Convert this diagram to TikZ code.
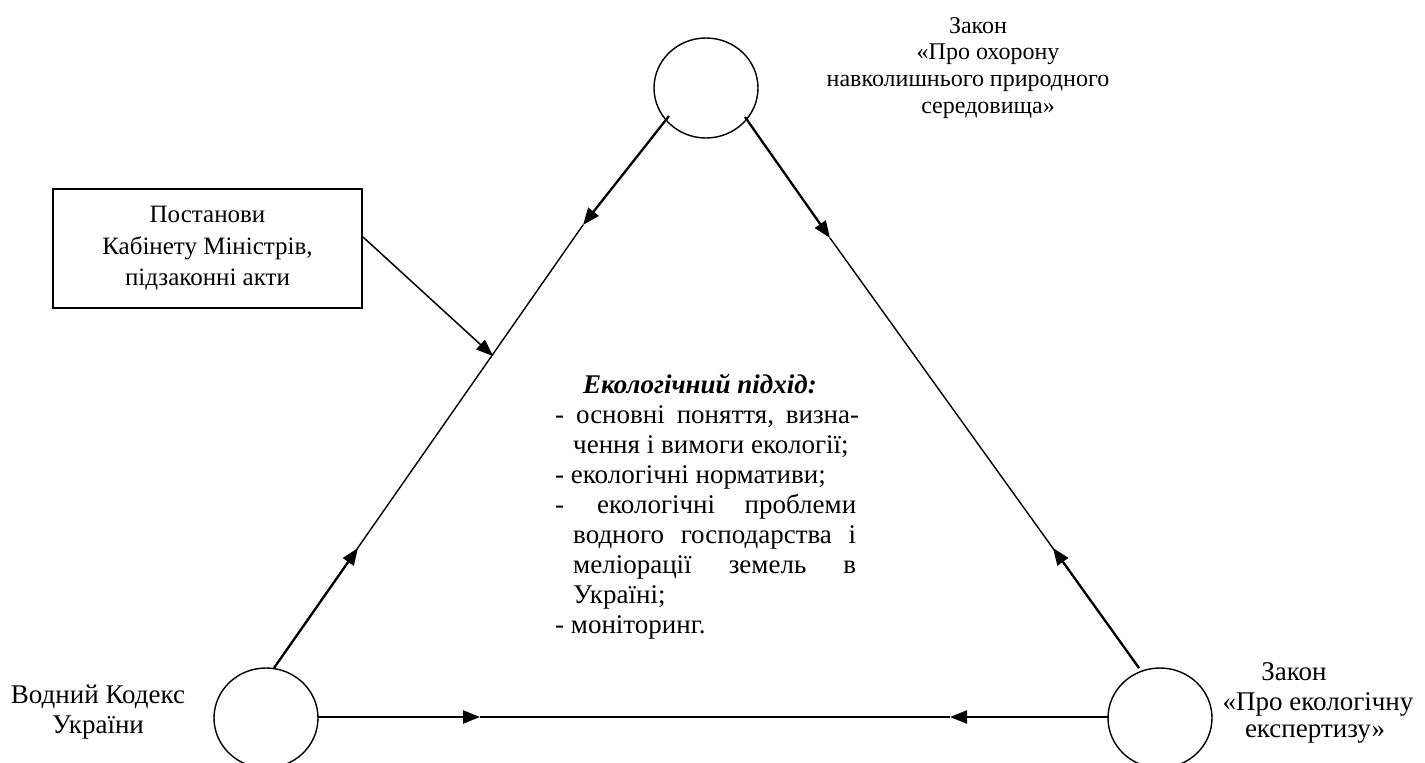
\documentclass[tikz,border=0pt]{standalone}
\usepackage{fontspec}
\setmainfont{Liberation Serif}
\usetikzlibrary{arrows.meta,shapes.geometric}
\tikzset{
  circ/.style={draw, ellipse, line width=1.4pt, minimum width=104pt, minimum height=100pt, inner sep=0pt},
  thickarr/.style={line width=2.3pt, -{Triangle[length=17pt,width=13pt]}},
  thinline/.style={line width=1.4pt},
  boxarr/.style={line width=1.5pt, -{Triangle[length=17pt,width=13pt]}},
  toplbl/.style={inner sep=0pt, anchor=base, font=\fontsize{24}{27}\selectfont},
  lbl/.style={inner sep=0pt, anchor=base, font=\fontsize{27}{30}\selectfont},
  bodyline/.style={inner sep=0pt, anchor=base west, font=\fontsize{27}{30}\selectfont},
}
\begin{document}
\begin{tikzpicture}[x=1pt,y=-1pt]
\useasboundingbox (0,0) rectangle (1425,763);
\fill[white] (0,0) rectangle (1425,763);

% circles
\node[circ] (top) at (706,88) {};
\node[circ] (bl) at (266,718) {};
\node[circ] (br) at (1160,718) {};

% junction coordinates
\coordinate (topL) at (669,116);
\coordinate (topR) at (745,117);
\coordinate (hL) at (583,225);
\coordinate (hR) at (830,238);
\coordinate (blT) at (274,668);
\coordinate (brT) at (1139,668);
\coordinate (hBL) at (358,548);
\coordinate (hBR) at (1053,548);
\coordinate (blR) at (318,717);
\coordinate (brL) at (1109,717);
\coordinate (hB1) at (480,717);
\coordinate (hB2) at (950,717);
\coordinate (boxout) at (363,237);
\coordinate (hBox) at (493,356);

% triangle thin sides
\draw[thinline] (hL) -- (blT);
\draw[thinline] (hR) -- (brT);
\draw[thinline] (hB1) -- (hB2);

% arrows
\draw[thickarr] (topL) -- (hL);
\draw[thickarr] (topR) -- (hR);
\draw[thickarr] (blT) -- (hBL);
\draw[thickarr] (brT) -- (hBR);
\draw[thickarr] (blR) -- (hB1);
\draw[thickarr] (brL) -- (hB2);

% box
\node[draw, line width=1.5pt, minimum width=309pt, minimum height=119pt, inner sep=0pt,
      align=center, font=\fontsize{25}{31.5}\selectfont] (box) at (207.5,248.5)
      {Постанови\\Кабінету Міністрів,\\підзаконні акти};
\draw[boxarr] (boxout) -- (hBox);

% top label
\node[toplbl] (t1) at (978,33) {Закон};
\node[toplbl] (t2) at (988,59) {«Про охорону};
\node[toplbl] (t3) at (968,86) {навколишнього природного};
\node[toplbl] (t4) at (988,113) {середовища»};

% left label
\node[lbl] (v1) at (98,703) {Водний Кодекс};
\node[lbl] (v2) at (98,733) {України};

% right label
\node[lbl] (e1) at (1294,680) {Закон};
\node[lbl] (e2) at (1318,710) {«Про екологічну};
\node[lbl] (e3) at (1315,737) {експертизу»};

% centre text
\node[bodyline, font=\fontsize{27}{30}\selectfont\bfseries\itshape] (head) at (583,393) {Екологічний підхід:};
\node[bodyline] (c1) at (555,423) {\hbox to 304pt{-\hfill основні\hfill поняття,\hfill визна-}};
\node[bodyline] (c2) at (573,453) {чення і вимоги екології;};
\node[bodyline] (c3) at (555,483) {- екологічні нормативи;};
\node[bodyline] (c4) at (555,513) {\hbox to 301pt{-\hspace{33pt}екологічні\hfill проблеми}};
\node[bodyline] (c5) at (573,543) {\hbox to 283pt{водного\hfill господарства\hfill і}};
\node[bodyline] (c6) at (573,573) {\hbox to 283pt{меліорації\hfill земель\hfill в}};
\node[bodyline] (c7) at (573,603) {Україні;};
\node[bodyline] (c8) at (555,633) {- моніторинг.};
\end{tikzpicture}
\end{document}
